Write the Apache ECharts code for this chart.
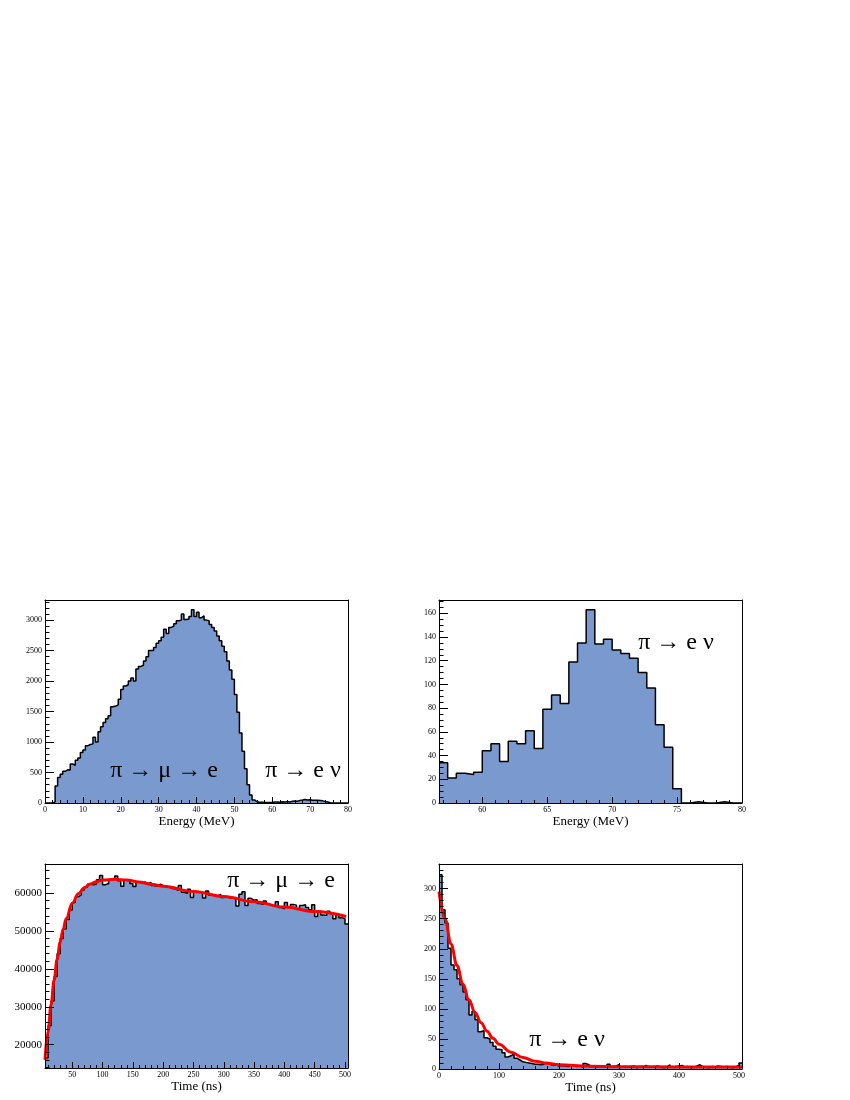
<!DOCTYPE html>
<html>
<head>
<meta charset="utf-8">
<script src="https://cdn.jsdelivr.net/npm/echarts@6/dist/echarts.min.js"></script>
<style>
html,body{margin:0;padding:0;background:#fff;}
#chart{width:850px;height:1100px;}
</style>
</head>
<body>
<div id="chart"></div>
<script>
// ---------------- DATA ----------------
// Panel 1: energy spectrum, 120 bins of 2/3 MeV from 0 to 80 MeV
const energyAllMin = 0;
const energyAllBinWidth = 2 / 3;
const energyAllCounts = [
  0,0,2,15,
  280,420,470,520,545,540,
  640,620,700,740,830,
  870,940,960,970,1080,
  1000,1170,1250,1320,1380,
  1430,1580,1590,1610,1700,
  1860,1920,1940,2000,2050,
  2000,2200,2240,2260,2330,
  2400,2500,2500,2550,2620,
  2660,2720,2850,2780,2880,
  2900,2940,2990,3000,3100,
  3010,3020,3060,3170,3060,
  3130,3040,3070,3000,2990,
  2930,2880,2820,2740,2660,
  2570,2480,2330,2180,2030,
  1780,1490,1150,850,560,
  300,130,50,20,
  14,
  12,9,8,10,9,
  15,18,13,19,18,
  23,17,28,32,30,
  43,49,58,50,52,
  47,45,44,41,35,
  25,17,5,1,0,
  1,0,0,0,0
];
// Panel 2: energy spectrum of pi -> e nu, bins of 2/3 MeV from 56.67 MeV
const energyEnuMin = 170 / 3;
const energyEnuBinWidth = 2 / 3;
const energyEnuCounts = [34,21,25,24,26,44,50,35,52,50,61,46,79,91,84,119,135,163,134,138,129,126,122,110,97,66,47,12,0,1,0,0,1,0,0];

// Panel 3: time spectrum pi -> mu -> e, 5 ns bins from 5 ns
const timeMueMin = 5;
const timeMueBinWidth = 5;
const timeMueCounts = [
  16500,25000,31500,38000,44000,48000,50500,53000,55500,57500,
  59000,59500,60800,61500,62300,62200,62400,63500,64600,62200,
  62500,63500,63800,64500,63200,61800,63500,63300,62500,61700,
  63000,62600,62900,62500,62800,62000,61800,62300,62000,61800,
  61600,61200,61100,60700,62000,60200,59900,61000,58800,60400,
  60300,60100,58700,60500,59400,59500,59200,59600,58800,59100,
  58700,58600,58800,56600,59700,60300,56700,58600,58100,58200,
  57200,57000,57900,57100,56800,56500,57700,56200,55800,57500,
  56400,57000,56800,55800,56700,56900,56200,55600,56900,53800,
  55200,54200,54100,55200,54500,53200,54300,53500,53200,51800
];
const fitMueT = [5,10,15,20,25,30,35,40,50,60,70,80,90,100,120,140,160,180,200,250,300,350,400,450,502];
const fitMueY = [16000,23500,30500,37000,42500,47000,50500,53300,57300,59800,61400,62400,63000,63400,63600,63400,62900,62300,61800,60400,59100,57700,56300,55100,53800];

// Panel 4: time spectrum pi -> e nu, 5 ns bins from 0 ns
const timeEnuMin = 0;
const timeEnuBinWidth = 5;
const timeEnuCounts = [
  323,265,243,201,173,165,150,140,128,115,
  90,96,82,62,64,52,50,44,38,33,
  32,27,20,22,25,18,15,12,11,10,
  9,8,8,7,8,11,8,6,7,5,
  6,5,4,6,5,4,5,3,9,7,
  4,5,3,4,5,3,8,4,5,7,
  3,4,3,4,5,2,4,3,6,4,
  3,4,5,3,2,4,7,3,4,5,
  6,3,4,2,3,5,7,4,3,2,
  4,3,5,4,3,4,3,2,4,6,
  10
];
const fitEnuT = [0,10,20,30,40,50,60,70,80,90,100,120,140,160,180,200,250,300,400,505];
const fitEnuY = [295,250,208,172,141,115,94,77,63,51,41,28,19,13,9.5,7,4.5,3.8,3.5,3.5];

// Tick labels
const p1XTicks = [0,10,20,30,40,50,60,70,80];
const p1YTicks = [0,500,1000,1500,2000,2500,3000];
const p2XTicks = [60,65,70,75,80];
const p2YTicks = [0,20,40,60,80,100,120,140,160];
const p3XTicks = [50,100,150,200,250,300,350,400,450,500];
const p3YTicks = [20000,30000,40000,50000,60000];
const p4XTicks = [0,100,200,300,400,500];
const p4YTicks = [0,50,100,150,200,250,300];

// ---------------- HELPERS ----------------
const FONT = 'Liberation Serif';
const FILL = '#7a99cf';

function stepsBetween(lo, hi, step) {
  const out = [];
  const n = Math.round((hi - lo) / step);
  for (let i = 0; i <= n; i++) out.push(+(lo + i * step).toFixed(6));
  return out;
}
function histPoints(xmin, w, vals) {
  const pts = vals.map((v, i) => [xmin + i * w, v]);
  pts.push([xmin + vals.length * w, vals[vals.length - 1]]);
  return pts;
}

const xAxes = [], yAxes = [];
function addAxes(gi, cfg) {
  xAxes.push({
    type: 'value', gridIndex: gi, position: 'bottom', min: cfg.xmin, max: cfg.xmax, z: 5,
    axisLine: {show: true, onZero: false, lineStyle: {color: '#000', width: 1}},
    axisTick: {show: true, inside: true, length: 6, customValues: cfg.xTicks, lineStyle: {color: '#000', width: 1}},
    axisLabel: {show: true, customValues: cfg.xTicks, formatter: v => String(v), fontFamily: FONT, fontSize: 8, color: '#000', margin: 3, showMinLabel: true, showMaxLabel: true},
    splitLine: {show: false},
    name: cfg.xName, nameLocation: 'middle', nameGap: cfg.nameGap,
    nameTextStyle: {fontFamily: FONT, fontSize: 13, color: '#000'}
  });
  xAxes.push({
    type: 'value', gridIndex: gi, position: 'bottom', min: cfg.xmin, max: cfg.xmax, z: 5,
    axisLine: {show: false, onZero: false},
    axisTick: {show: true, inside: true, length: 3, customValues: cfg.xMinor, lineStyle: {color: '#000', width: 1}},
    axisLabel: {show: false}, splitLine: {show: false}
  });
  xAxes.push({
    type: 'value', gridIndex: gi, position: 'top', min: cfg.xmin, max: cfg.xmax, z: 5,
    axisLine: {show: true, onZero: false, lineStyle: {color: '#000', width: 1}},
    axisTick: {show: false}, axisLabel: {show: false}, splitLine: {show: false}
  });
  yAxes.push({
    type: 'value', gridIndex: gi, position: 'left', min: cfg.ymin, max: cfg.ymax, z: 5,
    axisLine: {show: true, onZero: false, lineStyle: {color: '#000', width: 1}},
    axisTick: {show: true, inside: true, length: 9, customValues: cfg.yTicks, lineStyle: {color: '#000', width: 1}},
    axisLabel: {show: true, customValues: cfg.yTicks, formatter: v => String(v), fontFamily: FONT, fontSize: cfg.yFont || 8, color: '#000', margin: 3, showMinLabel: true, showMaxLabel: true},
    splitLine: {show: false}
  });
  yAxes.push({
    type: 'value', gridIndex: gi, position: 'left', min: cfg.ymin, max: cfg.ymax, z: 5,
    axisLine: {show: false, onZero: false},
    axisTick: {show: true, inside: true, length: 4.5, customValues: cfg.yMinor, lineStyle: {color: '#000', width: 1}},
    axisLabel: {show: false}, splitLine: {show: false}
  });
  yAxes.push({
    type: 'value', gridIndex: gi, position: 'right', min: cfg.ymin, max: cfg.ymax, z: 5,
    axisLine: {show: true, onZero: false, lineStyle: {color: '#000', width: 1}},
    axisTick: {show: false}, axisLabel: {show: false}, splitLine: {show: false}
  });
}

addAxes(0, {
  xmin: 0, xmax: 80, xTicks: p1XTicks, xMinor: stepsBetween(0, 80, 2),
  ymin: 0, ymax: 3330, yTicks: p1YTicks, yMinor: stepsBetween(0, 3300, 100),
  xName: 'Energy (MeV)', nameGap: 11
});
addAxes(1, {
  xmin: energyEnuMin, xmax: 80, xTicks: p2XTicks, xMinor: stepsBetween(57, 80, 1),
  ymin: 0, ymax: 171.2, yTicks: p2YTicks, yMinor: stepsBetween(0, 170, 5),
  xName: 'Energy (MeV)', nameGap: 11
});
addAxes(2, {
  xmin: 5, xmax: 505, xTicks: p3XTicks, xMinor: stepsBetween(10, 500, 10),
  ymin: 13850, ymax: 67650, yTicks: p3YTicks, yMinor: stepsBetween(14000, 66000, 2000), yFont: 11,
  xName: 'Time (ns)', nameGap: 12
});
addAxes(3, {
  xmin: 0, xmax: 505, xTicks: p4XTicks, xMinor: stepsBetween(0, 500, 20),
  ymin: 0, ymax: 341, yTicks: p4YTicks, yMinor: stepsBetween(0, 340, 10),
  xName: 'Time (ns)', nameGap: 12
});

function histSeries(gi, xmin, w, vals) {
  return {
    type: 'line', xAxisIndex: gi * 3, yAxisIndex: gi * 3, step: 'end', symbol: 'none', clip: true,
    data: histPoints(xmin, w, vals),
    lineStyle: {color: '#000', width: 1.5},
    areaStyle: {color: FILL, opacity: 1, origin: 'start'},
    z: 2, silent: true, animation: false
  };
}
function fitSeries(gi, xs, ys) {
  return {
    type: 'line', xAxisIndex: gi * 3, yAxisIndex: gi * 3, smooth: 0.4, smoothMonotone: 'x', symbol: 'none', clip: true,
    data: xs.map((x, i) => [x, ys[i]]),
    lineStyle: {color: '#ff0000', width: 3},
    z: 3, silent: true, animation: false
  };
}

const annot = (x, y, text) => ({
  type: 'text', x: x, y: y, z: 10,
  style: {text: text, font: '24px "Liberation Serif"', fill: '#000', textAlign: 'center', textVerticalAlign: 'middle'}
});

const option = {
  backgroundColor: '#fff',
  animation: false,
  grid: [
    {left: 45, top: 600, width: 303, height: 203},
    {left: 439, top: 600, width: 303, height: 203},
    {left: 45, top: 864, width: 303, height: 204},
    {left: 439, top: 864, width: 303, height: 205}
  ],
  xAxis: xAxes,
  yAxis: yAxes,
  series: [
    histSeries(0, energyAllMin, energyAllBinWidth, energyAllCounts),
    histSeries(1, energyEnuMin, energyEnuBinWidth, energyEnuCounts),
    histSeries(2, timeMueMin, timeMueBinWidth, timeMueCounts),
    fitSeries(2, fitMueT, fitMueY),
    histSeries(3, timeEnuMin, timeEnuBinWidth, timeEnuCounts),
    fitSeries(3, fitEnuT, fitEnuY)
  ],
  graphic: [
    annot(164, 771, 'π → μ → e'),
    annot(303, 771, 'π → e ν'),
    annot(676, 643, 'π → e ν'),
    annot(281, 881, 'π → μ → e'),
    annot(567, 1040, 'π → e ν')
  ]
};

const chart = echarts.init(document.getElementById('chart'), null, {renderer: 'canvas'});
chart.setOption(option);
</script>
</body>
</html>
